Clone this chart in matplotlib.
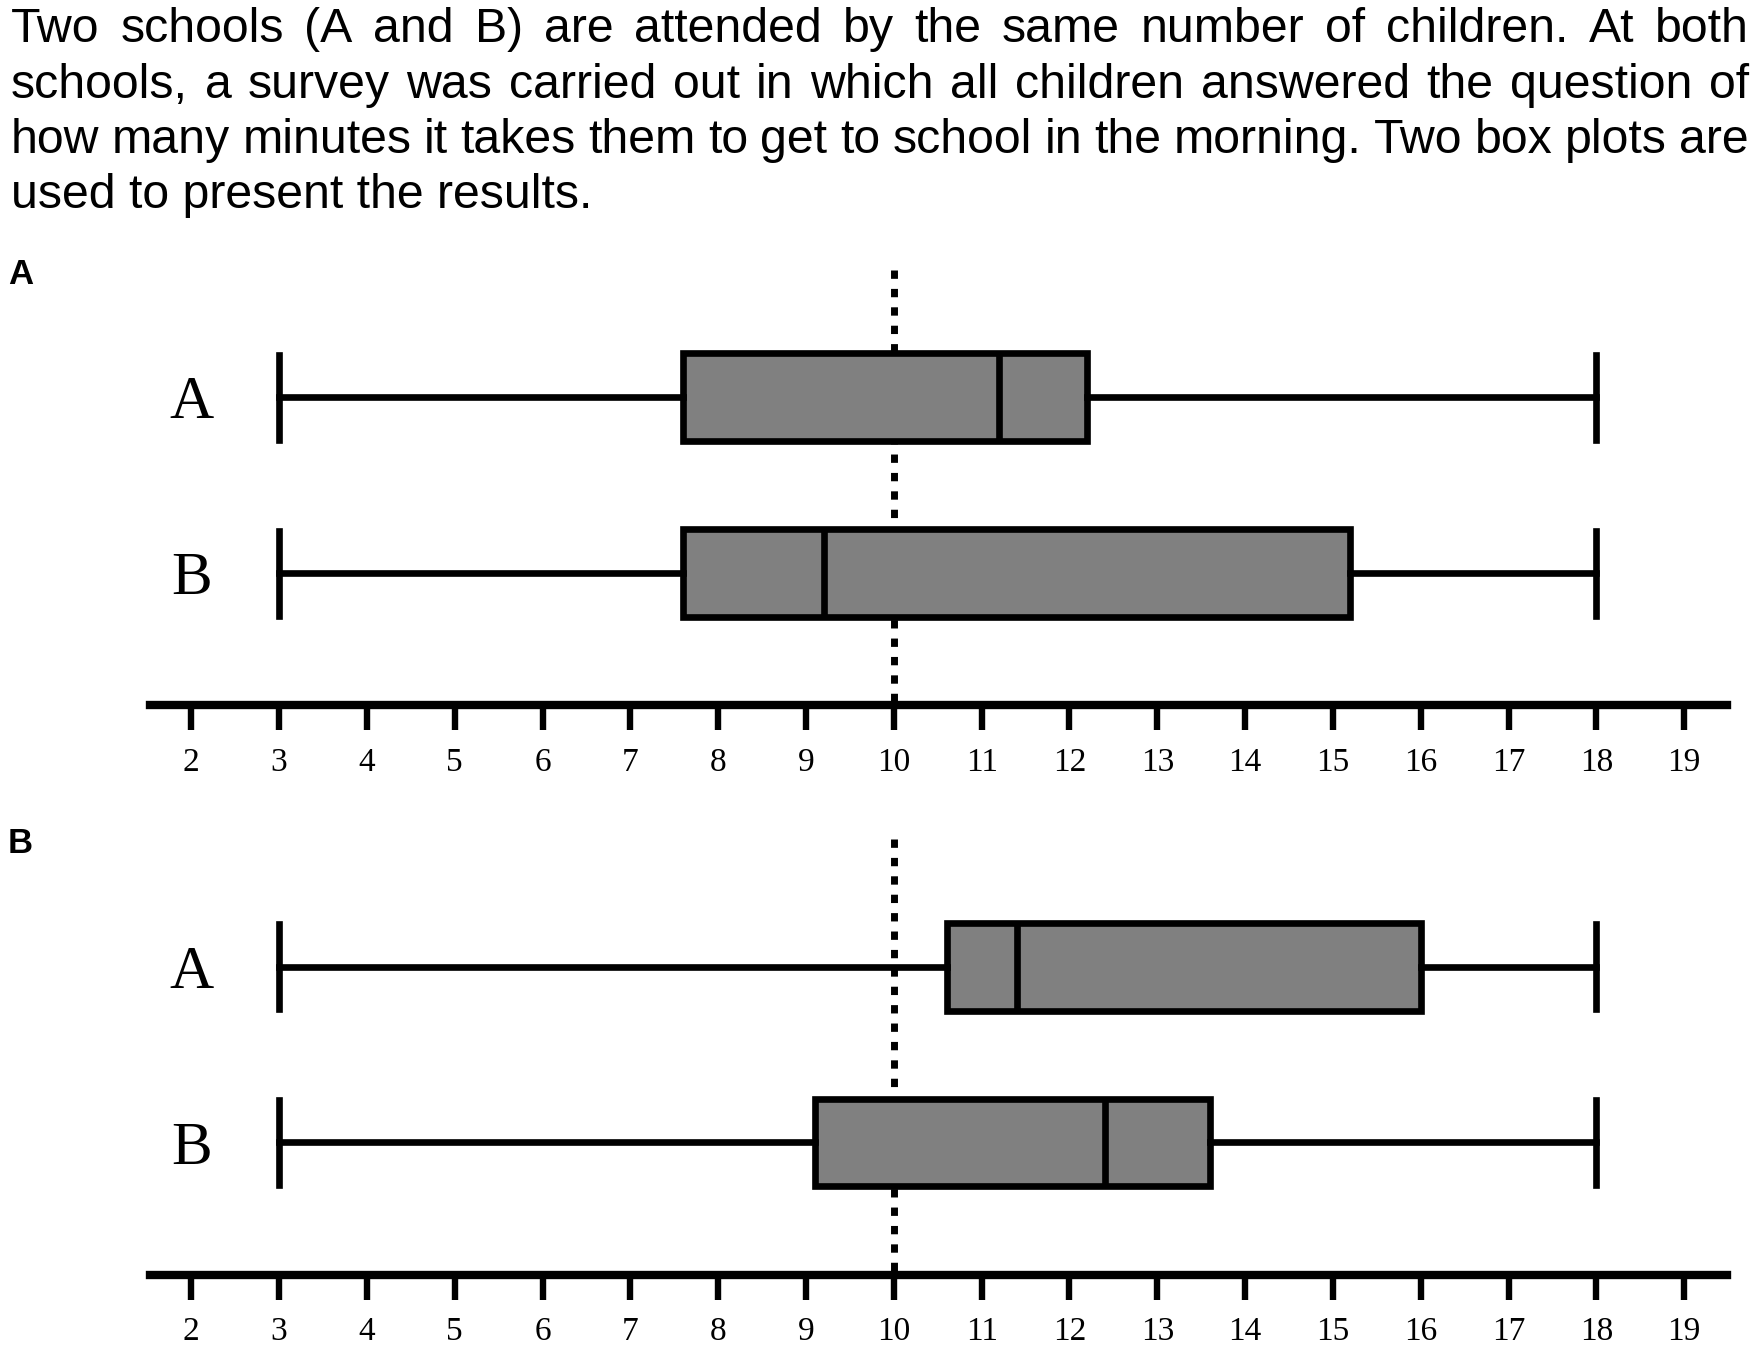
import matplotlib
matplotlib.use("Agg")
import matplotlib.pyplot as plt

W, H, DPI = 1764, 1346, 100

# text of the task above the plots
intro_lines = [
    "Two schools (A and B) are attended by the same number of children. At both",
    "schools, a survey was carried out in which all children answered the question of",
    "how many minutes it takes them to get to school in the morning. Two box plots are",
    "used to present the results.",
]
panel_names = ["A", "B"]
schools = ["A", "B"]
ticks = list(range(2, 20))
ref_minutes = 10

# [min, q1, median, q3, max] in minutes
panelA_schoolA = [3, 7.6, 11.2, 12.2, 18]
panelA_schoolB = [3, 7.6, 9.2, 15.2, 18]
panelB_schoolA = [3, 10.6, 11.4, 16.0, 18]
panelB_schoolB = [3, 9.1, 12.4, 13.6, 18]
panels = [[panelA_schoolA, panelA_schoolB], [panelB_schoolA, panelB_schoolB]]

fig = plt.figure(figsize=(W / DPI, H / DPI), dpi=DPI)
renderer = fig.canvas.get_renderer()

# justified paragraph
sans = "Liberation Sans"
probe = fig.text(0, 0, intro_lines[-1], fontsize=35, family=sans)
fs = 35 * 582 / probe.get_window_extent(renderer).width
probe.remove()

left_px, right_px = 11, 1749
baselines = [42.3, 97.5, 152.7, 208]
for i, (line, yb) in enumerate(zip(intro_lines, baselines)):
    words = line.split(" ")
    if i == len(intro_lines) - 1:
        fig.text(left_px / W, 1 - yb / H, line, fontsize=fs, family=sans, va="baseline")
        continue
    widths = []
    for w in words:
        t = fig.text(0, 0, w, fontsize=fs, family=sans)
        widths.append(t.get_window_extent(renderer).width)
        t.remove()
    gap = (right_px - left_px - sum(widths)) / (len(words) - 1)
    x = left_px
    for w, wd in zip(words, widths):
        fig.text(x / W, 1 - yb / H, w, fontsize=fs, family=sans, va="baseline")
        x += wd + gap

serif = "Liberation Serif"
axis_px = [705.4, 1274.6]
label_px = [283.5, 853]
lw = 4.8

for name, summaries, ay, ly in zip(panel_names, panels, axis_px, label_px):
    fig.text(8 / W, 1 - ly / H, name, fontsize=25, fontweight="bold", family=sans, va="baseline")

    ax = fig.add_axes([149.6 / W, 1 - ay / H, 1577.3 / W, 435.4 / H])
    stats = []
    for school, s in zip(schools, summaries):
        stats.append(dict(label=school, whislo=s[0], q1=s[1], med=s[2],
                          q3=s[3], whishi=s[4], fliers=[]))
    ax.bxp(stats, positions=[2, 1], orientation="horizontal", widths=0.5,
           capwidths=0.48, patch_artist=True, showfliers=False,
           boxprops=dict(facecolor="#808080", edgecolor="black", linewidth=lw),
           medianprops=dict(color="black", linewidth=lw),
           whiskerprops=dict(color="black", linewidth=lw),
           capprops=dict(color="black", linewidth=lw))

    ax.set_xlim(1.526, 19.486)
    ax.set_ylim(0.249, 2.724)
    ax.plot([ref_minutes, ref_minutes], [2.724, 0.249], color="black", lw=5,
            dashes=(1.2, 1.45), dash_capstyle="butt", zorder=1)

    for school, pos in zip(schools, [2, 1]):
        ax.text(2, pos - 0.12, school, ha="center", va="baseline",
                fontsize=44, family=serif)

    for side in ["left", "right", "top"]:
        ax.spines[side].set_visible(False)
    ax.spines["bottom"].set_linewidth(6)
    ax.set_yticks([])
    ax.set_xticks(ticks)
    ax.set_xticklabels([str(t) for t in ticks], family=serif)
    ax.tick_params(axis="x", direction="out", length=18, width=4.6,
                   pad=12, labelsize=24)
    ax.patch.set_visible(False)

fig.savefig("out.png", dpi=DPI)
